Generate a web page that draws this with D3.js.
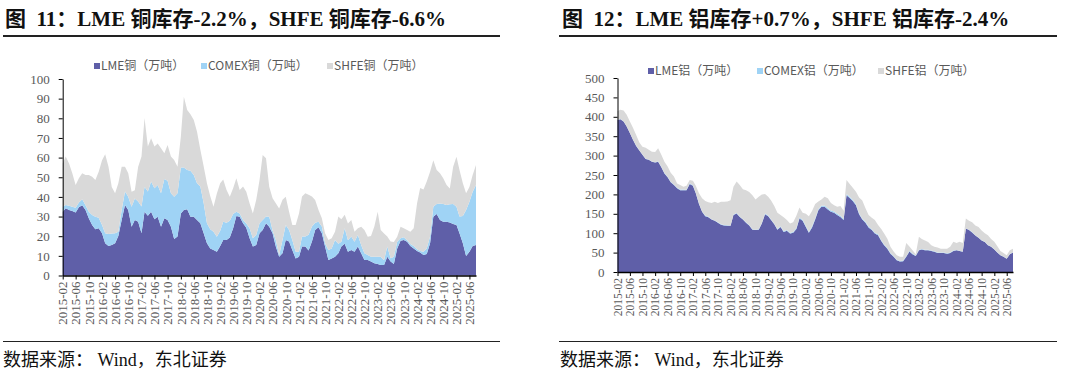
<!DOCTYPE html>
<html>
<head>
<meta charset="utf-8">
<script src="https://cdn.jsdelivr.net/npm/d3@7"></script>
<style>
  body { margin: 0; background: #fff; }
</style>
</head>
<body>
<svg id="chart" width="1080" height="376"></svg>
<script>
// monthly points, 2015-02 .. 2025-08
const firstMonth = "2015-02", lastMonth = "2025-08";
const tickLabels = ["2015-02","2015-06","2015-10","2016-02","2016-06","2016-10","2017-02","2017-06","2017-10",
  "2018-02","2018-06","2018-10","2019-02","2019-06","2019-10","2020-02","2020-06","2020-10","2021-02","2021-06",
  "2021-10","2022-02","2022-06","2022-10","2023-02","2023-06","2023-10","2024-02","2024-06","2024-10","2025-02","2025-06"];
const seriesKeys = ["lme", "comex", "shfe"];

// copper, 万吨
const lmeCu = [32.5,34.2,33.3,32.8,32.0,34.7,35.7,33.3,29.1,25.7,
  23.5,24.0,21.5,16.4,15.0,15.5,16.4,20.1,28.2,35.9,
  33.3,24.8,28.2,27.4,21.5,32.5,30.4,32.5,28.6,29.9,
  24.8,29.1,28.2,24.8,18.6,19.8,31.6,33.3,33.7,29.9,
  29.9,28.2,26.6,21.5,16.4,13.8,13.0,12.1,15.0,18.1,
  18.1,19.4,24.0,30.3,29.9,26.6,24.3,18.9,14.7,15.5,
  21.5,23.2,26.6,24.8,21.5,14.7,9.6,11.3,18.1,17.3,
  13.0,8.7,9.6,14.7,14.7,12.7,17.3,23.2,24.5,21.5,
  14.7,7.9,8.7,9.6,11.3,14.7,16.1,12.1,13.0,12.1,
  14.7,11.3,7.9,7.9,7.1,6.2,5.8,5.3,5.3,9.6,
  7.1,5.8,13.8,17.7,18.1,17.2,15.0,13.8,12.5,11.7,
  10.4,10.9,16.4,29.9,31.3,28.2,27.4,27.4,27.0,26.2,
  25.7,21.5,16.4,9.9,12.1,15.0,15.5];
const comexCu = [2.5,1.7,2.2,2.2,2.5,2.4,3.1,2.5,3.4,5.1,
  6.4,5.4,4.2,5.1,6.1,5.9,5.1,2.2,5.1,6.8,
  6.8,10.2,11.0,10.2,13.6,12.7,12.4,15.3,15.8,16.1,
  17.0,20.0,20.0,17.0,21.5,22.0,23.4,21.7,20.0,23.4,
  21.2,18.7,18.7,15.3,10.2,9.7,9.3,7.6,7.8,9.3,
  8.8,8.5,7.3,2.2,1.7,1.7,2.2,5.1,4.2,5.1,
  5.1,5.1,3.4,5.1,1.4,3.4,0.8,6.8,7.6,5.9,
  5.1,3.4,2.5,5.1,5.1,8.0,7.6,3.7,2.9,3.4,
  1.7,5.1,5.1,8.5,4.8,2.5,8.0,5.9,6.8,5.1,
  5.9,4.2,3.4,2.5,2.5,3.4,3.7,4.2,2.5,5.1,
  1.7,3.7,3.4,1.2,1.4,0.8,1.0,1.2,0.8,0.8,
  1.7,2.9,3.4,5.1,5.1,8.5,9.0,8.5,9.3,10.2,
  9.3,8.5,13.9,23.4,25.4,27.6,30.5];
const shfeCu = [22.0,24.6,21.5,17.0,11.5,12.4,13.2,15.3,18.7,19.5,
  18.7,23.4,33.0,40.2,34.3,23.7,20.4,24.6,22.0,12.7,
  11.9,7.6,4.2,17.8,25.4,35.0,22.9,22.0,21.2,21.2,
  22.9,13.1,18.2,18.7,18.7,13.6,15.6,36.0,30.5,28.8,
  28.0,26.3,18.7,18.7,20.4,16.8,12.7,22.0,24.1,21.4,
  16.6,12.2,13.1,17.0,11.9,17.0,16.1,12.7,12.7,17.8,
  22.0,33.0,29.7,15.3,16.4,18.7,23.7,20.4,14.4,9.3,
  7.6,13.6,19.4,20.4,22.0,20.4,15.3,11.5,5.9,4.2,
  5.1,5.1,5.1,4.2,13.9,11.4,6.8,8.5,8.5,5.1,
  3.4,9.3,11.9,9.3,10.5,15.3,22.9,13.6,13.6,5.1,
  8.5,7.6,2.5,5.9,4.6,5.1,6.3,9.0,23.4,32.0,
  31.7,34.0,33.0,23.7,17.3,15.3,13.1,10.2,8.0,19.0,
  25.4,23.7,16.6,8.5,7.6,8.5,10.2];

// aluminium, 万吨
const lmeAl = [392,394,388,375,358,341,325,313,302,291,
  289,284,282,284,270,254,244,231,224,216,
  211,211,211,227,222,203,175,155,144,141,
  135,132,127,122,120,119,119,147,151,142,
  135,127,120,109,108,109,125,149,144,134,
  123,109,116,103,106,99,101,111,138,132,
  116,101,115,135,159,168,168,161,155,153,
  147,142,134,198,191,183,172,149,135,127,
  115,108,99,95,80,69,60,47,39,30,
  27,28,39,53,46,41,56,58,56,56,
  54,52,49,49,49,47,49,54,56,54,
  52,112,108,102,94,88,81,77,69,65,
  58,50,43,39,34,46,50];
const comexAl = [0.4,0.5,0.5,0.6,0.5,0.7,0.8,0.7,0.9,1.0,
  0.9,1.1,1.0,1.2,1.1,1.3,1.2,1.4,1.3,1.2,
  1.4,1.5,1.3,1.6,1.4,1.5,1.3,1.2,1.4,1.1,
  1.2,1.0,1.1,0.9,1.0,1.2,1.1,0.9,1.0,1.1,
  1.0,1.2,1.1,1.3,1.2,1.4,1.3,1.5,1.4,1.6,
  1.5,1.7,1.9,1.8,2.0,2.2,2.1,2.3,2.2,2.5,
  2.6,2.4,2.8,2.7,3.0,2.9,3.1,3.0,3.3,3.1,
  3.2,3.0,2.9,3.1,2.8,2.9,2.6,2.7,2.5,2.4,
  2.3,2.2,2.3,2.0,2.1,1.9,2.0,1.8,1.7,1.8,
  1.6,1.7,1.5,1.6,1.4,1.5,1.4,1.3,1.5,1.3,
  1.2,1.4,1.2,1.1,1.3,1.1,1.0,1.2,1.0,0.9,
  1.1,1.0,0.9,1.0,0.8,0.9,0.8,0.7,0.9,0.8,
  0.7,0.8,0.6,0.7,0.6,0.7,0.6];
const shfeAl = [21.6,23.5,27.5,29.4,29.5,30.3,27.2,20.3,20.1,28.0,
  25.1,24.9,26.0,33.8,30.9,28.7,26.8,23.6,20.7,10.8,
  11.6,7.5,9.7,8.4,11.6,17.5,26.7,33.8,37.6,37.9,
  41.8,48.0,49.9,58.1,60.0,61.8,64.9,72.1,81.0,80.9,
  77.0,82.8,84.9,87.7,77.8,83.6,73.7,50.5,48.6,48.4,
  45.5,42.3,29.1,36.2,26.0,23.8,24.9,31.7,25.8,18.5,
  31.4,40.6,39.2,37.3,20.0,16.1,22.9,26.0,19.7,15.9,
  17.8,25.0,21.1,35.9,33.2,31.1,32.4,40.3,46.5,34.6,
  29.7,29.8,32.7,24.0,28.9,28.1,24.0,16.2,12.3,11.2,
  10.4,9.3,34.5,11.4,8.6,3.5,33.6,25.7,23.5,19.7,
  13.8,11.6,12.8,9.9,9.7,11.9,15.0,22.8,18.0,23.1,
  21.9,25.0,23.1,25.0,25.2,27.1,25.2,22.3,25.1,19.2,
  19.3,16.2,10.4,9.3,8.4,9.3,9.4];

const colors = {lme: "#5f5fa8", comex: "#9fd3f5", shfe: "#d9d9d9"};
const serif = "'Liberation Serif', 'Times New Roman', 'Noto Sans CJK SC', serif";
const cjk = "'Liberation Serif', 'Noto Sans CJK SC', serif";
const parseMonth = d3.timeParse("%Y-%m");
const months = d3.timeMonth.range(parseMonth(firstMonth), d3.timeMonth.offset(parseMonth(lastMonth), 1));

const svg = d3.select("#chart");

function drawPanel(p) {
  const rows = months.map((d, i) => ({date: d, lme: p.lme[i], comex: p.comex[i], shfe: p.shfe[i]}));
  const stacked = d3.stack().keys(seriesKeys)(rows);

  const x = d3.scaleTime()
      .domain([months[0], months[months.length - 1]])
      .range([p.left, p.right]);
  const y = d3.scaleLinear()
      .domain([0, p.yMax])
      .range([p.bottom, p.top]);

  const g = svg.append("g");

  // title + rules
  g.append("text")
      .attr("x", p.titleX).attr("y", 26)
      .attr("font-family", cjk).attr("font-weight", "bold").attr("font-size", 21)
      .attr("fill", "#111")
      .text(p.title);
  g.append("line")
      .attr("x1", p.ruleX1).attr("x2", p.ruleX2).attr("y1", 36).attr("y2", 36)
      .attr("stroke", "#222").attr("stroke-width", 2);
  g.append("line")
      .attr("x1", p.ruleX1).attr("x2", p.ruleX2).attr("y1", 341.5).attr("y2", 341.5)
      .attr("stroke", "#222").attr("stroke-width", 1.2);
  g.append("text")
      .attr("x", p.titleX - 2).attr("y", 366)
      .attr("font-family", cjk).attr("font-size", 18)
      .attr("fill", "#111")
      .text("数据来源：\u00a0Wind，东北证券");

  const area = d3.area()
      .x(d => x(d.data.date))
      .y0(d => y(d[0]))
      .y1(d => y(d[1]));

  g.append("g")
    .selectAll("path")
    .data(stacked)
    .join("path")
      .attr("fill", d => colors[d.key])
      .attr("d", area);

  // y axis
  const yAxis = g.append("g")
      .attr("transform", `translate(${p.left},0)`)
      .call(d3.axisLeft(y).ticks(10).tickSize(4).tickSizeOuter(0).tickPadding(9));
  yAxis.selectAll("text")
      .attr("font-family", serif).attr("font-size", 13).attr("fill", "#595959");
  yAxis.select(".domain").attr("stroke", "#000");

  // x axis
  const xAxis = g.append("g")
      .attr("transform", `translate(0,${p.bottom})`)
      .call(d3.axisBottom(x)
        .tickValues(tickLabels.map(parseMonth))
        .tickFormat(d3.timeFormat("%Y-%m"))
        .tickSize(4).tickSizeOuter(0));
  xAxis.select(".domain").attr("stroke", "#000").attr("stroke-width", 1.5);
  xAxis.selectAll("text")
      .attr("font-family", serif).attr("font-size", p.xFont).attr("fill", "#595959")
      .attr("transform", "rotate(-90)")
      .attr("text-anchor", "end")
      .attr("x", -6).attr("y", 0).attr("dy", "0.33em");

  // legend
  const legend = g.append("g")
      .attr("font-family", "'Noto Sans CJK SC', sans-serif").attr("font-size", 12).attr("fill", "#595959");
  p.legend.forEach((lab, i) => {
    const lx = p.legendX[i];
    legend.append("rect")
        .attr("x", lx).attr("y", p.legendY - 3).attr("width", 6).attr("height", 6)
        .attr("fill", colors[seriesKeys[i]]);
    legend.append("text")
        .attr("x", lx + 7).attr("y", p.legendY).attr("dy", "0.35em")
        .text(lab);
  });
}

drawPanel({
  title: "图\u00a0\u00a011：LME 铜库存-2.2%，SHFE 铜库存-6.6%",
  titleX: 5, ruleX1: 3, ruleX2: 500,
  lme: lmeCu, comex: comexCu, shfe: shfeCu,
  left: 62.7, right: 476, top: 79, bottom: 275.5, yMax: 100, xFont: 13,
  legend: ["LME铜（万吨）", "COMEX铜（万吨）", "SHFE铜（万吨）"],
  legendX: [94, 201, 327], legendY: 66
});

drawPanel({
  title: "图\u00a0\u00a012：LME 铝库存+0.7%，SHFE 铝库存-2.4%",
  titleX: 562, ruleX1: 559, ruleX2: 1057,
  lme: lmeAl, comex: comexAl, shfe: shfeAl,
  left: 617.5, right: 1013, top: 78, bottom: 272, yMax: 500, xFont: 11.5,
  legend: ["LME铝（万吨）", "COMEX铝（万吨）", "SHFE铝（万吨）"],
  legendX: [648, 757, 878], legendY: 71
});
</script>
</body>
</html>
